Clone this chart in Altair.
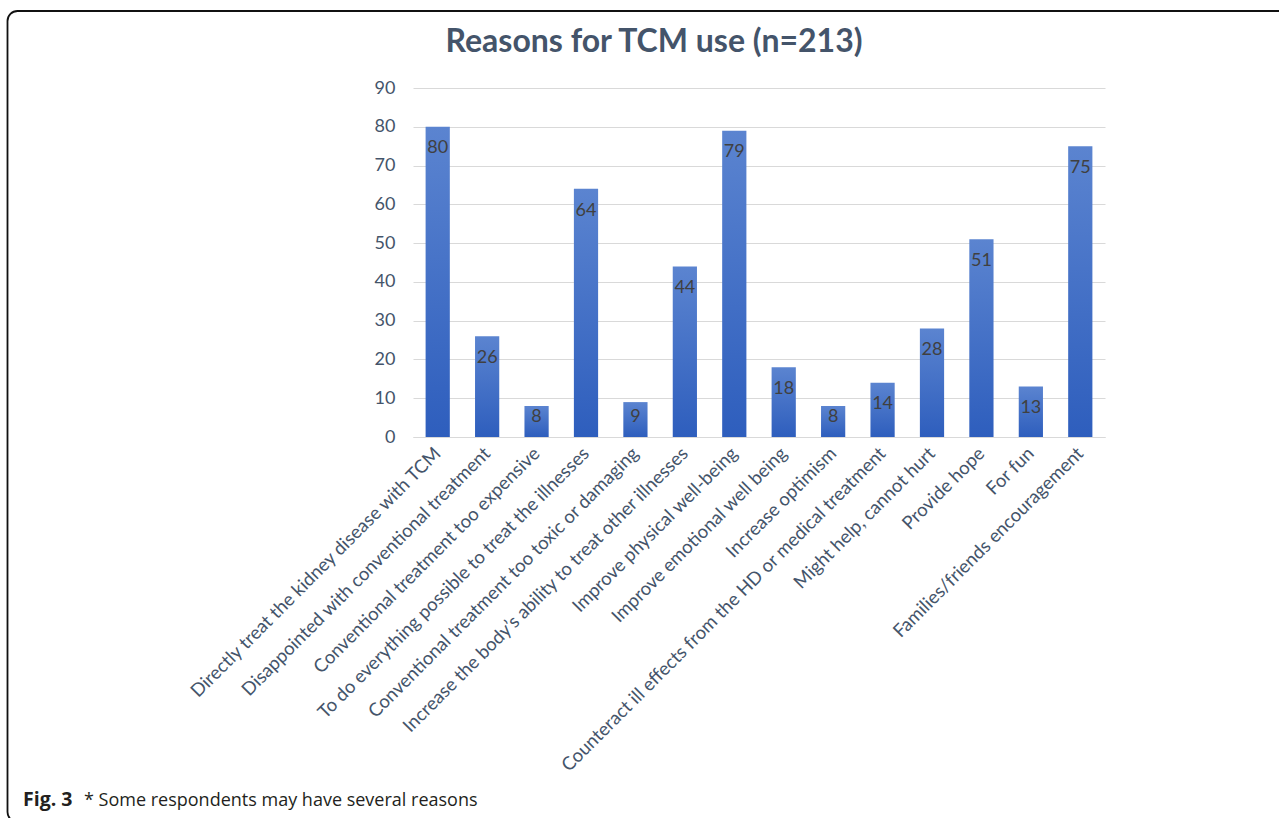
import altair as alt
import pandas as pd

# Reasons given by respondents for using TCM (n=213, multiple answers allowed)
reasons = [
    "Directly treat the kidney disease with TCM",
    "Disappointed with conventional treatment",
    "Conventional treatment too expensive",
    "To do everything possible to treat the illnesses",
    "Conventional treatment too toxic or damaging",
    "Increase the body\u2019s ability to treat other illnesses",
    "Improve physical well-being",
    "Improve emotional well being",
    "Increase optimism",
    "Counteract ill effects from the HD or medical treatment",
    "Might help, cannot hurt",
    "Provide hope",
    "For fun",
    "Families/friends encouragement",
]
counts = [80, 26, 8, 64, 9, 44, 79, 18, 8, 14, 28, 51, 13, 75]
y_ticks = [0, 10, 20, 30, 40, 50, 60, 70, 80, 90]

chart_title = "Reasons for TCM use (n=213)"
caption_bold = "Fig. 3"
caption_text = "* Some respondents may have several reasons"

df = pd.DataFrame({"reason": reasons, "count": counts})
one = pd.DataFrame({"k": [0]})

PLOT_W, PLOT_H = 692, 349
LEFT, TOP = 413, 88

x_axis = alt.Axis(
    title=None,
    labelAngle=-45,
    labelAlign="right",
    labelBaseline="middle",
    labelPadding=13,
    labelLimit=0,
    labelFont="Lato",
    labelFontSize=18.5,
    labelColor="#44546a",
    ticks=False,
    domainColor="#d9d9d9",
    domainWidth=1,
)
y_axis = alt.Axis(
    title=None,
    values=y_ticks,
    grid=True,
    gridColor="#d9d9d9",
    gridWidth=1,
    domain=False,
    ticks=False,
    labelOverlap=False,
    labelPadding=18,
    labelFont="Lato",
    labelFontSize=18,
    labelColor="#44546a",
)
x_scale = alt.Scale(paddingInner=0.51, paddingOuter=0.255)
y_scale = alt.Scale(domain=[0, 90], nice=False)

bars = alt.Chart(df).mark_bar(
    color=alt.Gradient(
        gradient="linear",
        stops=[
            alt.GradientStop(color="#5b84d0", offset=0),
            alt.GradientStop(color="#2e5ebd", offset=1),
        ],
        x1=0, x2=0, y1=0, y2=1,
    )
).encode(
    x=alt.X("reason:N", sort=reasons, scale=x_scale, axis=x_axis),
    y=alt.Y("count:Q", scale=y_scale, axis=y_axis),
)

# value labels sit just inside the top of each bar
labels = alt.Chart(df).transform_calculate(
    label_y="max(datum.count - 5.6, 5.2)"
).mark_text(
    font="Lato", fontSize=18, color="#404040", align="center", baseline="middle"
).encode(
    x=alt.X("reason:N", sort=reasons, scale=x_scale, axis=x_axis),
    y=alt.Y("label_y:Q", scale=y_scale, axis=y_axis),
    text=alt.Text("count:Q"),
)

title = alt.Chart(one).mark_text(
    text=chart_title, font="Lato", fontSize=32, fontWeight="bold",
    color="#44546a", align="center", baseline="alphabetic",
).encode(x=alt.value(654 - LEFT), y=alt.value(52 - TOP))

frame = alt.Chart(one).mark_rect(
    filled=False, stroke="#111111", strokeWidth=1.8, cornerRadius=10, clip=False,
).encode(
    x=alt.value(7.5 - LEFT), x2=alt.value(1300 - LEFT),
    y=alt.value(11 - TOP), y2=alt.value(822 - TOP),
)

cap_bold = alt.Chart(one).mark_text(
    text=caption_bold, font="Open Sans", fontSize=19.5, fontWeight="bold",
    color="#231f20", align="left", baseline="alphabetic",
).encode(x=alt.value(23 - LEFT), y=alt.value(806 - TOP))

cap_rest = alt.Chart(one).mark_text(
    text=caption_text, font="Open Sans", fontSize=18,
    color="#231f20", align="left", baseline="alphabetic",
).encode(x=alt.value(84 - LEFT), y=alt.value(806 - TOP))

chart = alt.layer(bars, labels, title, frame, cap_bold, cap_rest).properties(
    width=PLOT_W,
    height=PLOT_H,
    autosize=alt.AutoSizeParams(type="none"),
    padding={"left": LEFT, "top": TOP, "right": 1279 - LEFT - PLOT_W, "bottom": 818 - TOP - PLOT_H},
    background="white",
).configure_view(stroke=None)

chart.save("out.html", embed_options={"renderer": "svg", "actions": False})
